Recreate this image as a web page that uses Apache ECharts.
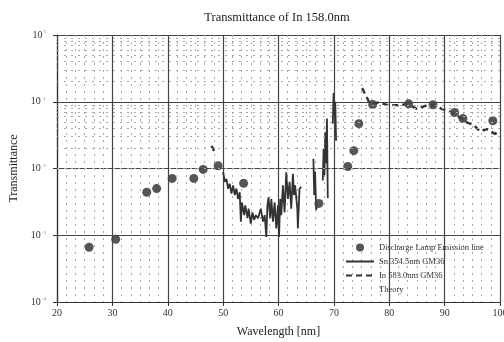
<!DOCTYPE html>
<html>
<head>
<meta charset="utf-8">
<script src="https://cdn.jsdelivr.net/npm/echarts@6/dist/echarts.min.js"></script>
<style>
  html, body { margin: 0; padding: 0; background: #fff; }
  #chart { width: 504px; height: 342px; }
</style>
</head>
<body>
<div id="chart"></div>
<script>
// Discharge lamp emission line measurements
const lampWavelength = [25.8, 30.6, 36.2, 38.0, 40.8, 44.7, 46.4, 49.1, 53.7, 67.3, 72.5, 73.6, 74.5, 77.0, 83.5, 87.9, 91.8, 93.3, 98.7];
const lampTransmittance = [6.6e-4, 8.7e-4, 4.4e-3, 5.0e-3, 7.1e-3, 7.1e-3, 9.7e-3, 1.1e-2, 6.0e-3, 3.0e-3, 1.07e-2, 1.85e-2, 4.7e-2, 9.1e-2, 9.3e-2, 9.0e-2, 6.9e-2, 5.6e-2, 5.2e-2];

// Sn 354.5nm GM36 scan (null = gap between scan pieces)
const snWavelength = [
  50.0, 50.3, 50.6, 50.9, 51.2, 51.5, 51.8, 52.1, 52.4, 52.7,
  53.0, 53.2, 53.4, 53.8, 54.0, 54.4, 54.6, 55.0, 55.3, 55.6,
  55.9, 56.3, 56.8, 57.2, 57.5, 57.8, 58.0, 58.2, 58.5, 58.7,
  59.0, 59.3, 59.6, 59.9, 60.1, 60.3, 60.5, 60.8, 61.1, 61.4,
  61.7, 62.0, 62.3, 62.6, 62.8, 63.0, 63.4, 63.5, 63.8, 64.1,
  65.0,
  66.3, 66.45, 66.6, 66.8, 67.0,
  67.5,
  68.0, 68.15, 68.3, 68.45, 68.6, 68.75, 68.9,
  69.3,
  69.8, 69.95, 70.1, 70.25, 70.4
];
const snTransmittance = [
  8.8e-3, 6.3e-3, 7.0e-3, 5.0e-3, 5.9e-3, 4.2e-3, 5.6e-3, 4.0e-3, 5.0e-3, 3.5e-3,
  4.4e-3, 1.6e-3, 3.1e-3, 2.0e-3, 2.8e-3, 1.8e-3, 2.5e-3, 1.5e-3, 2.2e-3, 1.7e-3,
  2.0e-3, 1.8e-3, 2.5e-3, 1.6e-3, 2.0e-3, 9.4e-4, 2.8e-3, 3.7e-3, 1.8e-3, 3.5e-3,
  1.6e-3, 3.1e-3, 1.26e-3, 2.8e-3, 9.4e-4, 3.5e-3, 2.0e-3, 5.6e-3, 2.2e-3, 8.8e-3,
  3.5e-3, 6.3e-3, 2.5e-3, 8.3e-3, 4.0e-3, 5.6e-3, 2.5e-3, 1.26e-3, 5.0e-3, 5.3e-3,
  null,
  1.4e-2, 4.0e-3, 9.0e-3, 2.4e-3, 2.8e-3,
  null,
  6.6e-3, 2.0e-2, 8.0e-3, 3.5e-2, 1.2e-2, 5.6e-2, 3.6e-3,
  null,
  4.7e-2, 1.35e-1, 6.0e-2, 1.0e-1, 2.6e-2
];

// In 583.0nm GM36 scan
const inWavelength = [47.9, 48.4, 60.0, 75.1, 76.5, 78.0, 79.8, 81.6, 83.4, 85.0, 86.5, 88.0, 89.5, 91.3, 92.8, 94.0, 95.2, 96.4, 97.6, 99.1, 100.0];
const inTransmittance = [2.2e-2, 1.8e-2, null, 0.16, 0.094, 0.097, 0.089, 0.089, 0.092, 0.078, 0.087, 0.090, 0.078, 0.069, 0.058, 0.049, 0.045, 0.036, 0.039, 0.033, 0.037];

const seriesNames = ['Discharge Lamp Emission line', 'Sn 354.5nm GM36', 'In 583.0nm GM36', 'Theory'];
const yExponents = ['0', '-1', '-2', '-3', '-4'];

const pairs = (xs, ys) => xs.map((x, i) => [x, ys[i] == null ? '-' : ys[i]]);

// log-decade minor grid lines at 2..9 x 10^k
const minorLogLines = [];
for (let k = -4; k < 0; k++) {
  for (let m = 2; m <= 9; m++) minorLogLines.push({ yAxis: m * Math.pow(10, k) });
}

const serif = 'Liberation Serif';
const ink = '#333';
const dotted = { color: '#a8a8a8', width: 1, type: [2, 5] };

const chart = echarts.init(document.getElementById('chart'), null, { renderer: 'canvas' });
chart.setOption({
  backgroundColor: '#fff',
  animation: false,
  title: {
    text: 'Transmittance of In 158.0nm',
    left: 272, top: 6, textAlign: 'center',
    textStyle: { fontFamily: serif, fontSize: 12.5, fontWeight: 'normal', color: '#222' }
  },
  grid: { left: 57, right: 4, top: 35, bottom: 40, containLabel: false, outerBoundsMode: 'none' },
  xAxis: {
    type: 'value', min: 20, max: 100, interval: 10,
    name: 'Wavelength [nm]', nameLocation: 'middle', nameGap: 24,
    nameTextStyle: { fontFamily: serif, fontSize: 12, color: '#222' },
    axisLine: { lineStyle: { color: ink, width: 1.2 } },
    axisTick: { show: true, length: 4, lineStyle: { color: ink } },
    axisLabel: { fontFamily: serif, fontSize: 10, color: '#333', margin: 6 },
    splitLine: { show: true, lineStyle: { color: '#444', width: 1.2 } },
    minorTick: { show: false, splitNumber: 6 },
    minorSplitLine: { show: true, lineStyle: dotted }
  },
  yAxis: {
    type: 'log', logBase: 10, min: 1e-4, max: 1,
    name: 'Transmittance', nameLocation: 'middle', nameGap: 37,
    nameTextStyle: { fontFamily: serif, fontSize: 12, color: '#222' },
    axisLine: { show: true, lineStyle: { color: ink, width: 1.2 } },
    axisTick: { show: true, length: 4, lineStyle: { color: ink } },
    axisLabel: {
      margin: 11,
      formatter: v => '{b|10}{s|' + yExponents[-Math.round(Math.log10(v))] + '}',
      rich: {
        b: { fontFamily: serif, fontSize: 10, color: '#333' },
        s: { fontFamily: serif, fontSize: 5, color: '#888', verticalAlign: 'top', padding: [0, 0, 6, 1] }
      }
    },
    splitLine: { show: true, lineStyle: { color: '#444', width: 1.2 } }
  },
  legend: {
    orient: 'vertical', left: 340, top: 238,
    itemWidth: 28, itemHeight: 8, itemGap: 5,
    textStyle: { fontFamily: serif, fontSize: 8.5, color: '#333' },
    data: [
      { name: seriesNames[0] },
      { name: seriesNames[1], itemStyle: { opacity: 0 } },
      { name: seriesNames[2], itemStyle: { opacity: 0 } },
      { name: seriesNames[3], icon: 'rect', itemStyle: { opacity: 0 } }
    ]
  },
  series: [
    {
      name: 'minor grid', type: 'line', data: [], silent: true,
      markLine: {
        silent: true, symbol: 'none', label: { show: false },
        lineStyle: dotted,
        data: minorLogLines
      }
    },
    {
      name: seriesNames[1], type: 'line', data: pairs(snWavelength, snTransmittance),
      symbol: 'none', connectNulls: false,
      lineStyle: { color: '#333', width: 1.8 }, itemStyle: { color: '#333' }, z: 3
    },
    {
      name: seriesNames[2], type: 'line', data: pairs(inWavelength, inTransmittance),
      symbol: 'none', connectNulls: false,
      lineStyle: { color: '#333', width: 2.4, type: [6, 4] }, itemStyle: { color: '#333' }, z: 3
    },
    {
      name: seriesNames[0], type: 'scatter', data: pairs(lampWavelength, lampTransmittance),
      symbol: 'circle', symbolSize: 9,
      itemStyle: { color: '#444', opacity: 0.9 }, z: 4
    },
    {
      name: seriesNames[3], type: 'line', data: [], symbol: 'none',
      lineStyle: { opacity: 0 }, itemStyle: { color: 'transparent' }
    }
  ]
});
</script>
</body>
</html>
